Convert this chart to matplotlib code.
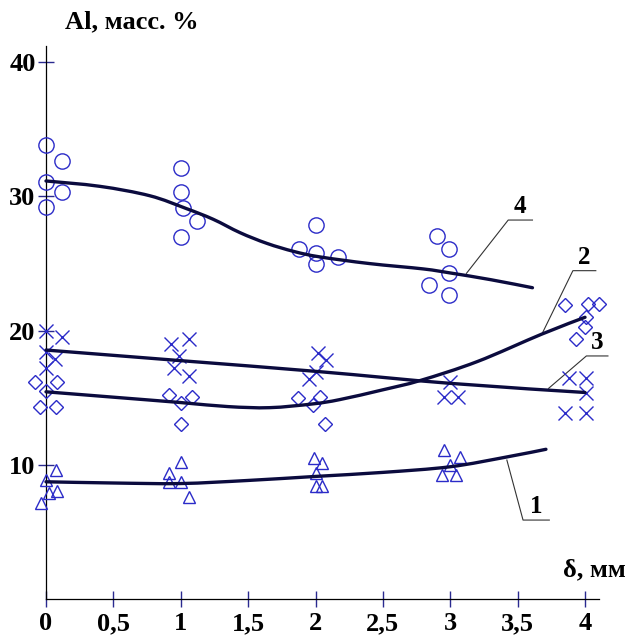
import matplotlib
matplotlib.use("Agg")
import matplotlib.pyplot as plt
from matplotlib.path import Path
from matplotlib.patches import PathPatch

# Measured aluminium content (mass %) versus distance delta (mm)
tri_x = [0.075, 0.0, 0.08, 0.025, -0.04, 1.0, 0.91, 0.91, 1.0, 1.06,
         1.99, 2.05, 2.0, 2.0, 2.05, 2.95, 3.07, 3.0, 2.94, 3.04]
tri_y = [9.6, 8.9, 8.1, 7.9, 7.2, 10.25, 9.4, 8.7, 8.75, 7.65,
         10.5, 10.17, 9.4, 8.44, 8.44, 11.1, 10.6, 10.0, 9.25, 9.25]

dia_x = [-0.08, 0.08, 0.0, -0.045, 0.075, 0.91, 1.08, 1.0, 1.0,
         1.87, 2.03, 1.98, 2.07, 3.85, 4.02, 4.1, 4.01, 4.0, 3.93]
dia_y = [16.2, 16.2, 15.5, 14.3, 14.3, 15.2, 15.1, 14.6, 13.05,
         14.97, 15.1, 14.47, 13.05, 21.9, 22.0, 22.0, 21.0, 20.3, 19.4]

crs_x = [0.0, 0.12, 0.0, 0.07, 0.0, 0.93, 1.06, 0.99, 0.95, 1.06,
         2.02, 2.08, 2.0, 1.95, 3.0, 2.95, 3.06, 3.88, 4.01, 4.01, 3.85, 4.01]
crs_y = [20.0, 19.5, 18.4, 17.9, 17.2, 19.0, 19.4, 18.1, 17.2, 16.6,
         18.35, 17.8, 16.9, 16.4, 16.2, 15.1, 15.1, 16.45, 16.45, 15.35, 13.85, 13.85]

cir_x = [0.0, 0.12, 0.0, 0.12, 0.0, 1.0, 1.0, 1.02, 1.12, 1.0,
         2.0, 1.88, 2.0, 2.0, 2.17, 2.9, 2.99, 2.99, 2.84, 2.99]
cir_y = [33.8, 32.6, 31.1, 30.35, 29.2, 32.1, 30.3, 29.1, 28.2, 27.0,
         27.9, 26.1, 25.8, 25.0, 25.5, 27.05, 26.1, 24.3, 23.4, 22.65]

# Smoothed trend curves 1-4 (knots of the drawn curves)
curve1_x = [0.0, 0.5, 1.0, 1.5, 2.0, 2.5, 3.0, 3.42, 3.71]
curve1_y = [8.75, 8.66, 8.62, 8.85, 9.15, 9.45, 9.87, 10.6, 11.17]

curve2_x = [0.0, 0.5, 1.0, 1.35, 1.66, 1.98, 2.18, 2.5, 2.78, 3.2, 3.68, 4.0]
curve2_y = [15.45, 15.05, 14.65, 14.35, 14.27, 14.55, 14.87, 15.6, 16.3, 17.7, 19.75, 21.0]

curve3_x = [0.0, 1.0, 2.03, 3.0, 4.0]
curve3_y = [18.56, 17.77, 16.95, 16.08, 15.4]

curve4_x = [0.0, 0.4, 0.77, 1.04, 1.24, 1.44, 1.64, 1.84, 2.03, 2.4, 2.8, 3.0, 3.3, 3.61]
curve4_y = [31.15, 30.75, 30.05, 29.1, 28.3, 27.3, 26.5, 25.9, 25.5, 25.0, 24.6, 24.3, 23.8, 23.2]

x_ticks = [0, 0.5, 1, 1.5, 2, 2.5, 3, 3.5, 4]
x_tick_labels = ["0", "0,5", "1", "1,5", "2", "2,5", "3", "3,5", "4"]
y_ticks = [10, 20, 30, 40]
y_tick_labels = ["10", "20", "30", "40"]

SERIF = "Liberation Serif"
MARK = "#2b2bc8"
CURVE = "#0b0b3e"
TICK = "#2a2a90"


def smooth_path(xs, ys):
    """Catmull-Rom curve through the knots, expressed as cubic Bezier segments."""
    pts = list(zip(xs, ys))
    ext = [pts[0]] + pts + [pts[-1]]
    verts = [pts[0]]
    codes = [Path.MOVETO]
    for i in range(1, len(ext) - 2):
        p0, p1, p2, p3 = ext[i - 1], ext[i], ext[i + 1], ext[i + 2]
        c1 = (p1[0] + (p2[0] - p0[0]) / 6, p1[1] + (p2[1] - p0[1]) / 6)
        c2 = (p2[0] - (p3[0] - p1[0]) / 6, p2[1] - (p3[1] - p1[1]) / 6)
        verts += [c1, c2, p2]
        codes += [Path.CURVE4] * 3
    return Path(verts, codes)


W, H = 628, 635
fig = plt.figure(figsize=(W / 100, H / 100), dpi=100)
ax = fig.add_axes([46 / W, 35.7 / H, 552.5 / W, 553.3 / H])
ax.set_xlim(0, 4.1)
ax.set_ylim(0, 41.2)

for side in ("top", "right"):
    ax.spines[side].set_visible(False)
for side in ("left", "bottom"):
    ax.spines[side].set_color("black")
    ax.spines[side].set_linewidth(0.9)

mk = dict(linestyle="none", markerfacecolor="none", markeredgecolor=MARK,
          clip_on=False, zorder=3)
ax.plot(tri_x, tri_y, marker="^", markersize=8.5, markeredgewidth=1.0, **mk)
ax.plot(dia_x, dia_y, marker="D", markersize=7.5, markeredgewidth=1.0, **mk)
ax.plot(crs_x, crs_y, marker="x", markersize=9.5, markeredgewidth=1.0, **mk)
ax.plot(cir_x, cir_y, marker="o", markersize=11, markeredgewidth=1.0, **mk)

for cx, cy in ((curve1_x, curve1_y), (curve2_x, curve2_y),
               (curve3_x, curve3_y), (curve4_x, curve4_y)):
    ax.add_patch(PathPatch(smooth_path(cx, cy), fill=False, edgecolor=CURVE,
                           linewidth=2.4, capstyle="round", joinstyle="round",
                           zorder=4, clip_on=False))

ax.set_xticks(x_ticks)
ax.set_xticklabels(x_tick_labels)
ax.set_yticks(y_ticks)
ax.set_yticklabels(y_tick_labels)
ax.tick_params(direction="inout", length=11, width=1.0, color=TICK)
ax.tick_params(axis="x", pad=4)
ax.tick_params(axis="y", pad=2)
for lab in ax.get_xticklabels() + ax.get_yticklabels():
    lab.set_fontfamily(SERIF)
    lab.set_fontweight("bold")
    lab.set_fontsize(19)

# Curve number callouts: leader line with underlined number
callouts = [
    ("4", (3.12, 24.27), (3.43, 28.24), (3.61, 28.24)),
    ("2", (3.68, 19.75), (3.91, 24.47), (4.08, 24.47)),
    ("3", (3.73, 15.71), (4.01, 18.12), (4.17, 18.12)),
    ("1", (3.42, 10.37), (3.54, 5.9), (3.735, 5.9)),
]
for num, p0, p1, p2 in callouts:
    ax.plot([p0[0], p1[0], p2[0]], [p0[1], p1[1], p2[1]], color="#333333",
            linewidth=0.8, clip_on=False, zorder=2)
    ax.text((p1[0] + p2[0]) / 2, p1[1] + 0.15, num, family=SERIF,
            fontweight="bold", fontsize=18, ha="center", va="bottom")

fig.text(65 / W, 1 - 22 / H, "Al, масс. %", family=SERIF, fontweight="bold",
         fontsize=19, ha="left", va="center")
fig.text(626 / W, 1 - 570 / H, "δ, мм", family=SERIF, fontweight="bold",
         fontsize=19, ha="right", va="center")

fig.savefig("out.png", dpi=100)
